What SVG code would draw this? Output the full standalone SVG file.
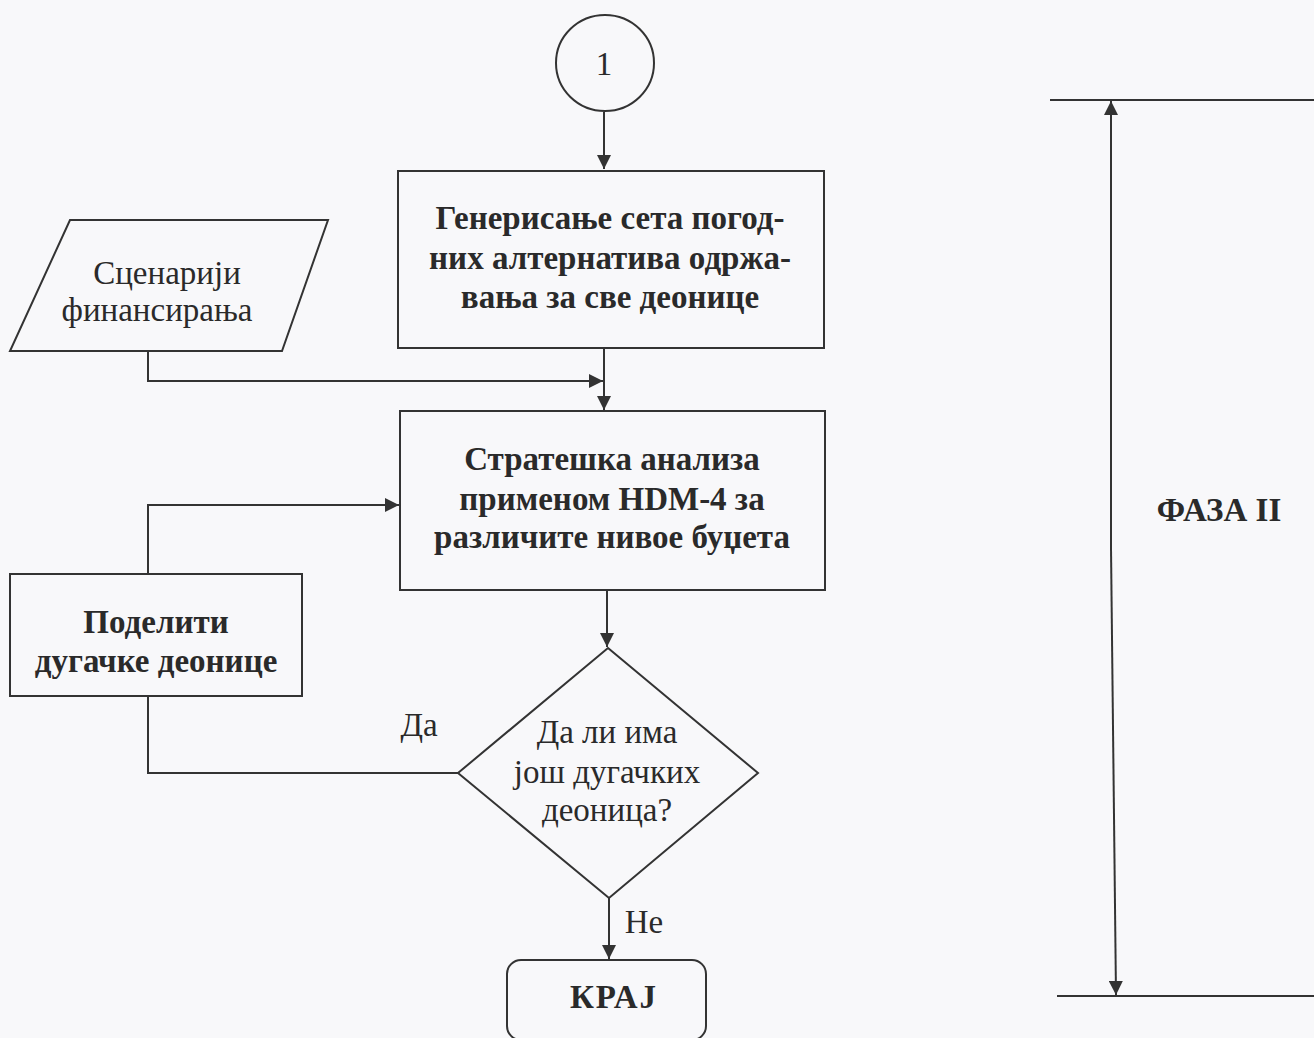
<svg xmlns="http://www.w3.org/2000/svg" width="1314" height="1038" viewBox="0 0 1314 1038">
<style>
.shape{fill:none;stroke:#333;stroke-width:2}
.line{fill:none;stroke:#333;stroke-width:2}
.t{font-family:"Liberation Serif","Times New Roman",serif;fill:#2a2a2a;text-anchor:middle;font-size:33px}
.b{font-weight:bold}
</style>
<defs>
<marker id="arr" viewBox="0 0 10 10" refX="10" refY="5" markerWidth="14" markerHeight="14" markerUnits="userSpaceOnUse" orient="auto">
<path d="M0,0 L10,5 L0,10 z" fill="#333"/>
</marker>
</defs>
<rect width="1314" height="1038" fill="#f8f8fa"/>
<g id="connectors">
<line class="line" x1="604" y1="112" x2="604" y2="169" marker-end="url(#arr)"/>
<polyline class="line" points="148,351 148,381 603,381" marker-end="url(#arr)"/>
<line class="line" x1="604" y1="348" x2="604" y2="410" marker-end="url(#arr)"/>
<polyline class="line" points="148,574 148,505 399,505" marker-end="url(#arr)"/>
<line class="line" x1="607" y1="590" x2="607" y2="647" marker-end="url(#arr)"/>
<polyline class="line" points="458,773 148,773 148,696"/>
<line class="line" x1="609" y1="898" x2="609" y2="959" marker-end="url(#arr)"/>
<line class="line" x1="1050" y1="100" x2="1314" y2="100"/>
<line class="line" x1="1057" y1="996" x2="1314" y2="996"/>
<line class="line" x1="1111" y1="548" x2="1111" y2="101" marker-end="url(#arr)"/>
<line class="line" x1="1111" y1="548" x2="1116" y2="995" marker-end="url(#arr)"/>
<text class="t" x="419" y="736">Да</text>
<text class="t" x="644" y="933">Не</text>
</g>
<g id="start">
<ellipse class="shape" cx="605" cy="63" rx="49" ry="48"/>
<text class="t" x="604" y="75">1</text>
</g>
<g id="generate">
<rect class="shape" x="398" y="171" width="426" height="177"/>
<text class="t b" x="610" y="229">Генерисање сета погод-</text>
<text class="t b" x="610" y="269">них алтернатива одржа-</text>
<text class="t b" x="610" y="308">вања за све деонице</text>
</g>
<g id="scenarios">
<polygon class="shape" points="70,220 328,220 282,351 10,351"/>
<text class="t" x="167" y="284">Сценарији</text>
<text class="t" x="157" y="321">финансирања</text>
</g>
<g id="strategic">
<rect class="shape" x="400" y="411" width="425" height="179"/>
<text class="t b" x="612" y="470">Стратешка анализа</text>
<text class="t b" x="612" y="510">применом HDM-4 за</text>
<text class="t b" x="612" y="548">различите нивое буџета</text>
</g>
<g id="split">
<rect class="shape" x="10" y="574" width="292" height="122"/>
<text class="t b" x="156" y="633">Поделити</text>
<text class="t b" x="156" y="672">дугачке деонице</text>
</g>
<g id="decision">
<polygon class="shape" points="608,648 758,773 609,898 458,773"/>
<text class="t" x="607" y="743">Да ли има</text>
<text class="t" x="607" y="783">још дугачких</text>
<text class="t" x="607" y="821">деоница?</text>
</g>
<g id="end">
<rect class="shape" x="507" y="960" width="199" height="80" rx="14"/>
<text class="t b" x="614" y="1008" letter-spacing="2">КРАЈ</text>
</g>
<g id="phase">
<text class="t b" x="1219" y="521">ФАЗА II</text>
</g>
</svg>
